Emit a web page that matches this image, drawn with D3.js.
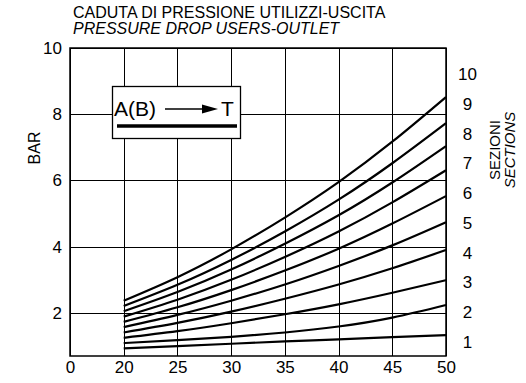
<!DOCTYPE html>
<html>
<head>
<meta charset="utf-8">
<script src="https://cdn.jsdelivr.net/npm/d3@7"></script>
<style>
    body { margin: 0; background: white; }
    text { font-family: "Liberation Sans", Arial, Helvetica, sans-serif; fill: black; }
</style>
</head>
<body>
<div id="chart"></div>
<script>

// portata l/min (the first tick is a break, labelled 0)
var flows = [20, 25, 30, 35, 40, 45, 50];
var xTicks = [15, 20, 25, 30, 35, 40, 45, 50];
var xTickLabels = ["0", "20", "25", "30", "35", "40", "45", "50"];
var yTicks = [2, 4, 6, 8, 10];
var sections = [1, 2, 3, 4, 5, 6, 7, 8, 9, 10];

// bar, one list per number of sections
var sec1 = [0.93, 1.00, 1.07, 1.14, 1.20, 1.27, 1.33];
var sec2 = [1.09, 1.18, 1.28, 1.41, 1.59, 1.86, 2.24];
var sec3 = [1.25, 1.45, 1.69, 1.96, 2.26, 2.61, 2.99];
var sec4 = [1.41, 1.70, 2.04, 2.43, 2.86, 3.35, 3.90];
var sec5 = [1.57, 1.94, 2.37, 2.86, 3.42, 4.04, 4.74];
var sec6 = [1.73, 2.17, 2.69, 3.28, 3.94, 4.70, 5.53];
var sec7 = [1.89, 2.40, 3.00, 3.69, 4.46, 5.34, 6.31];
var sec8 = [2.05, 2.63, 3.31, 4.09, 4.95, 5.94, 7.04];
var sec9 = [2.21, 2.85, 3.60, 4.46, 5.42, 6.52, 7.73];
var sec10 = [2.37, 3.08, 3.92, 4.88, 5.95, 7.17, 8.52];

var series = [sec1, sec2, sec3, sec4, sec5, sec6, sec7, sec8, sec9, sec10];

var width = 526, height = 383;
// (window.top is read only, so plotTop)
var plotLeft = 70, plotRight = 446, plotTop = 48, plotBottom = 356;

var svg = d3.select("#chart").append("svg")
    .attr("width", width)
    .attr("height", height);

var x = d3.scaleLinear().domain([15, 50]).range([plotLeft, plotRight]);
var y = d3.scaleLinear().domain([0.7, 10]).range([plotBottom, plotTop]);
// labels of the sections on the right are spread evenly
var ySec = d3.scalePoint().domain(sections).range([342, 74]);

// grid
svg.append("g").selectAll("line")
    .data(xTicks)
    .enter().append("line")
    .attr("x1", function (d) { return Math.round(x(d)) + 0.5; })
    .attr("x2", function (d) { return Math.round(x(d)) + 0.5; })
    .attr("y1", plotTop)
    .attr("y2", plotBottom)
    .attr("stroke", "#000")
    .attr("stroke-width", 1);

svg.append("g").selectAll("line")
    .data(yTicks)
    .enter().append("line")
    .attr("x1", plotLeft)
    .attr("x2", plotRight)
    .attr("y1", function (d) { return Math.round(y(d)) + 0.5; })
    .attr("y2", function (d) { return Math.round(y(d)) + 0.5; })
    .attr("stroke", "#000")
    .attr("stroke-width", 1);

svg.append("rect")
    .attr("x", plotLeft)
    .attr("y", plotTop)
    .attr("width", plotRight - plotLeft)
    .attr("height", plotBottom - plotTop)
    .attr("fill", "none")
    .attr("stroke", "#000")
    .attr("stroke-width", 1.5);

// axes, only the labels are kept
var xAxis = svg.append("g")
    .attr("transform", "translate(0," + plotBottom + ")")
    .call(d3.axisBottom(x).tickValues(xTicks).tickSize(0).tickPadding(5)
        .tickFormat(function (d, i) { return xTickLabels[i]; }));

var yAxis = svg.append("g")
    .attr("transform", "translate(" + plotLeft + ",0)")
    .call(d3.axisLeft(y).tickValues(yTicks).tickSize(0).tickPadding(8));

var secAxis = svg.append("g")
    .attr("transform", "translate(" + (plotRight + 13) + ",0)")
    .call(d3.axisRight(ySec).tickSize(0).tickPadding(0));

[xAxis, yAxis, secAxis].forEach(function (g) {
    g.select(".domain").remove();
    g.selectAll("text")
        .attr("font-family", "'Liberation Sans', Arial, sans-serif")
        .attr("font-size", 17)
        .attr("fill", "#000");
});
secAxis.selectAll("text").attr("text-anchor", "middle").attr("x", 8.5);

// curves
var line = d3.line()
    .x(function (d, i) { return x(flows[i]); })
    .y(function (d) { return y(d); })
    .curve(d3.curveNatural);

svg.append("g").selectAll("path")
    .data(series)
    .enter().append("path")
    .attr("d", line)
    .attr("fill", "none")
    .attr("stroke", "#000")
    .attr("stroke-width", 2.2);

// legend box
var leg = svg.append("g");
leg.append("rect")
    .attr("x", 112.5).attr("y", 86.5)
    .attr("width", 128).attr("height", 52)
    .attr("fill", "#fff")
    .attr("stroke", "#000")
    .attr("stroke-width", 1.3);
leg.append("text")
    .attr("x", 114).attr("y", 116)
    .attr("font-size", 21)
    .text("A(B)");
leg.append("line")
    .attr("x1", 165).attr("x2", 204)
    .attr("y1", 109).attr("y2", 109)
    .attr("stroke", "#000").attr("stroke-width", 1.6);
leg.append("path")
    .attr("d", "M202,104.5L218,109L202,113.5Z")
    .attr("fill", "#000");
leg.append("text")
    .attr("x", 221).attr("y", 116)
    .attr("font-size", 21)
    .text("T");
leg.append("line")
    .attr("x1", 117).attr("x2", 237)
    .attr("y1", 126).attr("y2", 126)
    .attr("stroke", "#000").attr("stroke-width", 3.5);

// titles
svg.append("text")
    .attr("x", 73).attr("y", 17.5)
    .attr("font-size", 16)
    .text("CADUTA DI PRESSIONE UTILIZZI-USCITA");
svg.append("text")
    .attr("x", 73).attr("y", 34)
    .attr("font-size", 16)
    .attr("font-style", "italic")
    .text("PRESSURE DROP USERS-OUTLET");

svg.append("text")
    .attr("transform", "translate(40,148) rotate(-90)")
    .attr("text-anchor", "middle")
    .attr("font-size", 16)
    .text("BAR");

svg.append("text")
    .attr("transform", "translate(500,150) rotate(-90)")
    .attr("text-anchor", "middle")
    .attr("font-size", 15)
    .text("SEZIONI");
svg.append("text")
    .attr("transform", "translate(515,150) rotate(-90)")
    .attr("text-anchor", "middle")
    .attr("font-size", 15)
    .attr("font-style", "italic")
    .text("SECTIONS");

</script>
</body>
</html>
